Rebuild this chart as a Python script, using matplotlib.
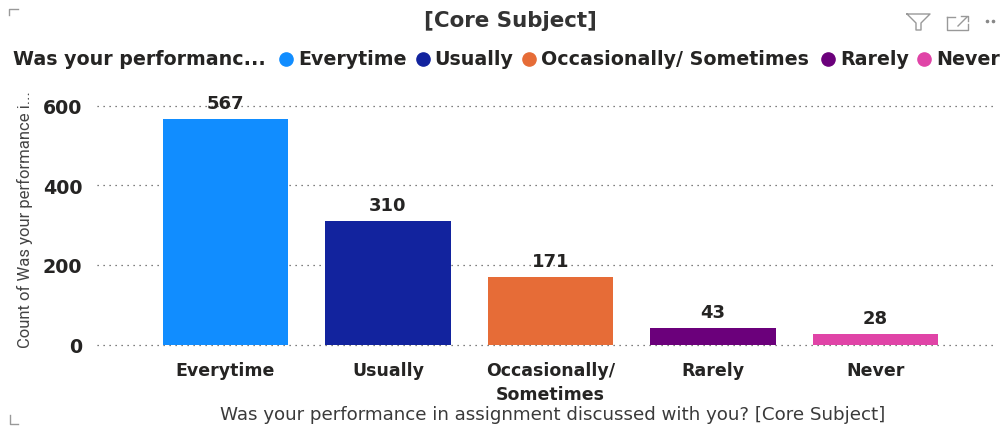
import matplotlib
matplotlib.use('Agg')
import matplotlib.pyplot as plt
from matplotlib.lines import Line2D

W, H = 1001, 427

# data
categories = ['Everytime', 'Usually', 'Occasionally/\nSometimes', 'Rarely', 'Never']
legend_names = ['Everytime', 'Usually', 'Occasionally/ Sometimes', 'Rarely', 'Never']
counts = [567, 310, 171, 43, 28]
colors = ['#118DFF', '#12239E', '#E66C37', '#6B007B', '#E044A7']
yticks = [0, 200, 400, 600]
legend_dot_x = [286, 423, 529, 828, 924]
legend_text_x = [298, 434, 541, 840, 936]

fig = plt.figure(figsize=(W / 100, H / 100), dpi=100)
ax = fig.add_axes([97 / W, 1 - 345.7 / H, (996 - 97) / W, 239.2 / H])
text_col = '#252423'

x = list(range(len(counts)))
ax.bar(x, counts, width=0.772, color=colors, zorder=3)
ax.set_xlim(-0.79, 4.742)
ax.set_ylim(0, 600)

ax.set_yticks(yticks)
ax.set_xticks(x)
ax.set_xticklabels(categories, fontweight='bold', fontsize=12.5, color=text_col, linespacing=1.4)
ax.tick_params(axis='both', length=0)
ax.tick_params(axis='x', pad=12)
ax.tick_params(axis='y', pad=10.5)
for t in ax.get_yticklabels():
    t.set_fontweight('bold')
    t.set_fontsize(13.7)
    t.set_color(text_col)

ax.yaxis.grid(True, linestyle=(0, (1, 3.8)), color='#555555', linewidth=0.9, zorder=1)
ax.set_axisbelow(True)
for s in ax.spines.values():
    s.set_visible(False)
for l in ax.get_ygridlines():
    l.set_clip_on(False)

for i, v in enumerate(counts):
    ax.annotate(str(v), (i, v), xytext=(0, 5), textcoords='offset points', ha='center',
                va='bottom', fontweight='bold', fontsize=13, color=text_col, zorder=4)

# title, axis names
fig.text(510.5 / W, 1 - 21 / H, '[Core Subject]', ha='center', va='center', fontsize=15.4,
         fontweight='bold', color='#333333')
fig.text(553 / W, 1 - 415 / H, 'Was your performance in assignment discussed with you? [Core Subject]',
         ha='center', va='center', fontsize=13.15, color='#3a3a3a')
fig.text(25 / W, 1 - 220 / H, 'Count of Was your performance i...', rotation=90, ha='center', va='center',
         fontsize=12, color='#444444', family='Roboto')

# legend
fig.text(13 / W, 1 - 60 / H, 'Was your performanc...', ha='left', va='center', fontsize=13.7,
         fontweight='bold', color=text_col)
for name, col, dx, tx in zip(legend_names, colors, legend_dot_x, legend_text_x):
    fig.add_artist(Line2D([dx / W], [1 - 60 / H], marker='o', markersize=9.5, color=col, linestyle='none'))
    fig.text(tx / W, 1 - 60 / H, name, ha='left', va='center', fontsize=13.7,
             fontweight='bold', color=text_col)


def mark(xs, ys, col='#999999', lw=1):
    fig.add_artist(Line2D([v / W for v in xs], [1 - v / H for v in ys], color=col, linewidth=lw))


# header icons and corner marks
mark([907, 930, 921, 921, 916, 916, 907], [15, 15, 24, 31, 31, 24, 15])
mark([947, 947, 968, 968], [18, 31, 31, 25])
mark([947, 955], [18, 18])
mark([961, 968, 968], [17, 17, 22])
mark([958, 967], [27, 18])
fig.add_artist(Line2D([987 / W, 993 / W], [1 - 22 / H] * 2, color='#888888', linestyle='none',
                      marker='o', markersize=1.6))
mark([9, 9, 18], [16, 10, 10])
mark([10, 10, 18], [416, 425, 425])

fig.savefig('out.png', dpi=100)
